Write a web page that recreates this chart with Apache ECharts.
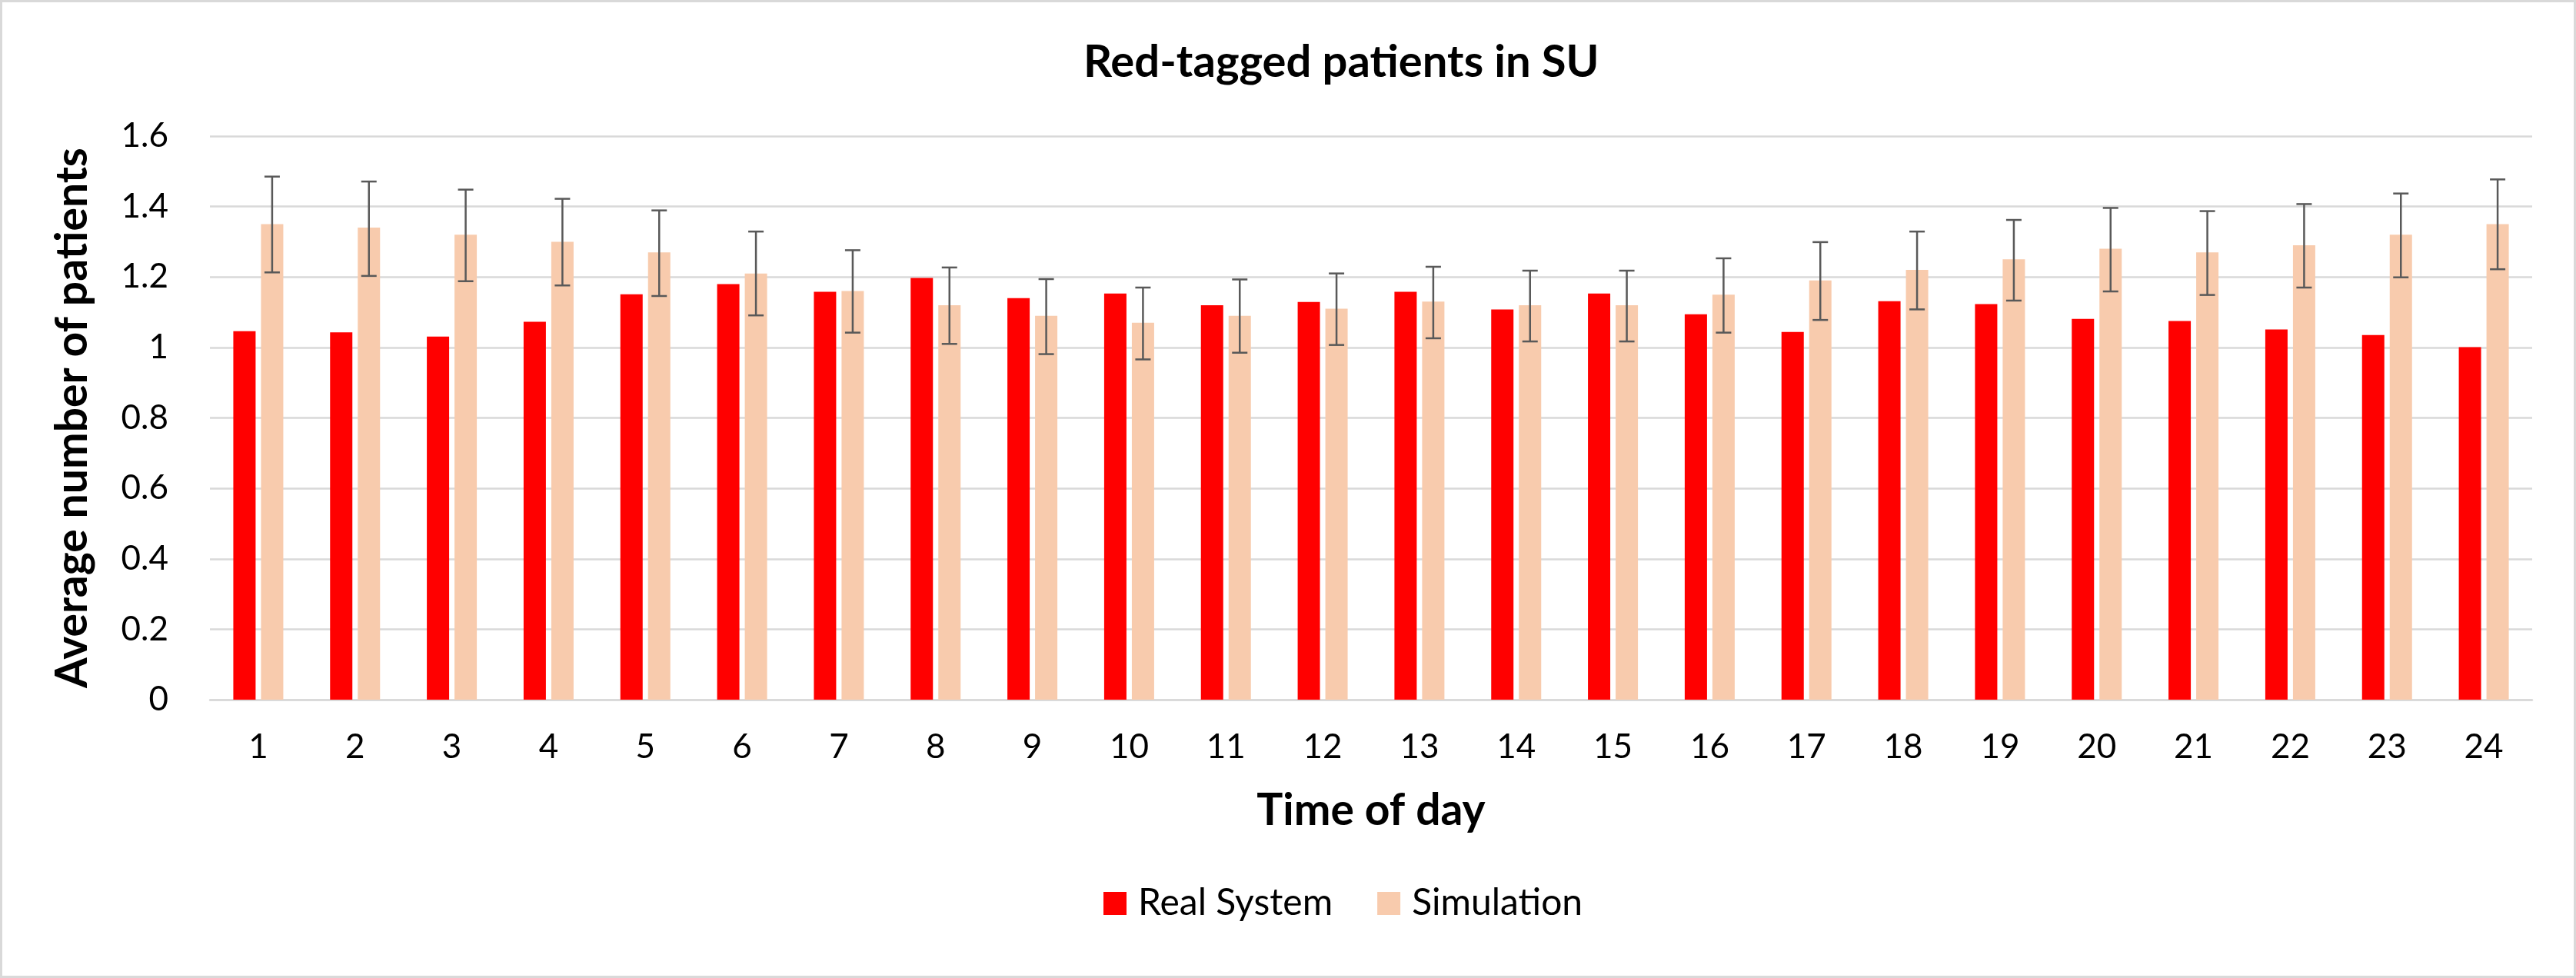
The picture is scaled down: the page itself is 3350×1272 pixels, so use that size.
<!DOCTYPE html>
<html>
<head>
<meta charset="utf-8">
<script src="https://cdn.jsdelivr.net/npm/echarts@6/dist/echarts.min.js"></script>
<style>
  html, body { margin: 0; padding: 0; background: #fff; }
  #chart { width: 3350px; height: 1272px; }
</style>
</head>
<body>
<div id="chart"></div>
<script>
// hours of the day
var hours = ['1','2','3','4','5','6','7','8','9','10','11','12','13','14','15','16','17','18','19','20','21','22','23','24'];

var realSystem = [1.046, 1.043, 1.031, 1.073, 1.151, 1.180, 1.158, 1.197, 1.140, 1.153, 1.120, 1.129,
                  1.158, 1.108, 1.153, 1.094, 1.044, 1.131, 1.123, 1.081, 1.075, 1.051, 1.035, 1.001];

var simulation = [1.35, 1.34, 1.32, 1.30, 1.27, 1.21, 1.16, 1.12, 1.09, 1.07, 1.09, 1.11,
                  1.13, 1.12, 1.12, 1.15, 1.19, 1.22, 1.25, 1.28, 1.27, 1.29, 1.32, 1.35];

// error bar ends for simulation
var simLow  = [1.213, 1.203, 1.188, 1.176, 1.146, 1.091, 1.042, 1.010, 0.981, 0.966, 0.985, 1.007,
               1.026, 1.017, 1.017, 1.042, 1.078, 1.108, 1.133, 1.159, 1.149, 1.170, 1.199, 1.222];
var simHigh = [1.485, 1.471, 1.448, 1.422, 1.389, 1.329, 1.276, 1.227, 1.194, 1.170, 1.193, 1.210,
               1.229, 1.218, 1.218, 1.253, 1.299, 1.329, 1.362, 1.396, 1.387, 1.407, 1.437, 1.477];

var yTicks = [0, 0.2, 0.4, 0.6, 0.8, 1, 1.2, 1.4, 1.6];

var BAR_W = 29;
var BAR_GAP = 7;
var FONT = 'Lato, "Open Sans", sans-serif';

var chart = echarts.init(document.getElementById('chart'));

chart.setOption({
  animation: false,
  backgroundColor: '#fff',
  textStyle: { fontFamily: FONT },
  title: {
    text: 'Red-tagged patients in SU',
    left: 1404,
    top: 47,
    textStyle: { fontFamily: FONT, fontSize: 58, fontWeight: 'bold', color: '#000' }
  },
  legend: {
    data: ['Real System', 'Simulation'],
    left: 1430,
    top: 1146,
    icon: 'rect',
    itemWidth: 30,
    itemHeight: 30,
    itemGap: 58,
    textStyle: { fontFamily: FONT, fontSize: 48, color: '#000', padding: [0, 0, 0, 10] }
  },
  grid: { left: 273, right: 57, top: 177, bottom: 362, containLabel: false },
  xAxis: {
    type: 'category',
    data: hours,
    name: 'Time of day',
    nameLocation: 'middle',
    nameGap: 116,
    nameTextStyle: { fontFamily: FONT, fontSize: 57, fontWeight: 'bold', color: '#000' },
    axisLine: { lineStyle: { color: '#D9D9D9', width: 2.5 } },
    axisTick: { show: false },
    axisLabel: { fontFamily: FONT, fontSize: 44, color: '#000', margin: 40 }
  },
  yAxis: {
    type: 'value',
    min: yTicks[0],
    max: yTicks[yTicks.length - 1],
    interval: 0.2,
    name: 'Average number of patients',
    nameLocation: 'middle',
    nameGap: 150,
    nameTextStyle: { fontFamily: FONT, fontSize: 57, fontWeight: 'bold', color: '#000' },
    axisLine: { show: false },
    axisTick: { show: false },
    axisLabel: {
      fontFamily: FONT, fontSize: 44, color: '#000', margin: 54,
      formatter: function (v) { return String(Math.round(v * 10) / 10); }
    },
    splitLine: { lineStyle: { color: '#D9D9D9', width: 2.5 } }
  },
  graphic: [{
    type: 'rect',
    shape: { x: 1.5, y: 1.5, width: 3347, height: 1269 },
    style: { fill: 'none', stroke: '#D9D9D9', lineWidth: 3 },
    silent: true
  }],
  series: [
    {
      name: 'Real System',
      type: 'bar',
      data: realSystem,
      barWidth: BAR_W,
      barGap: (BAR_GAP / BAR_W * 100) + '%',
      itemStyle: { color: '#FF0000' }
    },
    {
      name: 'Simulation',
      type: 'bar',
      data: simulation,
      barWidth: BAR_W,
      itemStyle: { color: '#F8CBAD' }
    },
    {
      name: 'errors',
      type: 'custom',
      data: hours.map(function (h, i) { return [i, simLow[i], simHigh[i]]; }),
      z: 10,
      renderItem: function (params, api) {
        var lo = api.coord([api.value(0), api.value(1)]);
        var hi = api.coord([api.value(0), api.value(2)]);
        var x = lo[0] + (BAR_W + BAR_GAP) / 2;
        var half = 10;
        var st = { stroke: '#595959', lineWidth: 2.5 };
        return {
          type: 'group',
          children: [
            { type: 'line', shape: { x1: x, y1: hi[1], x2: x, y2: lo[1] }, style: st },
            { type: 'line', shape: { x1: x - half, y1: hi[1], x2: x + half, y2: hi[1] }, style: st },
            { type: 'line', shape: { x1: x - half, y1: lo[1], x2: x + half, y2: lo[1] }, style: st }
          ]
        };
      }
    }
  ]
});
</script>
</body>
</html>
